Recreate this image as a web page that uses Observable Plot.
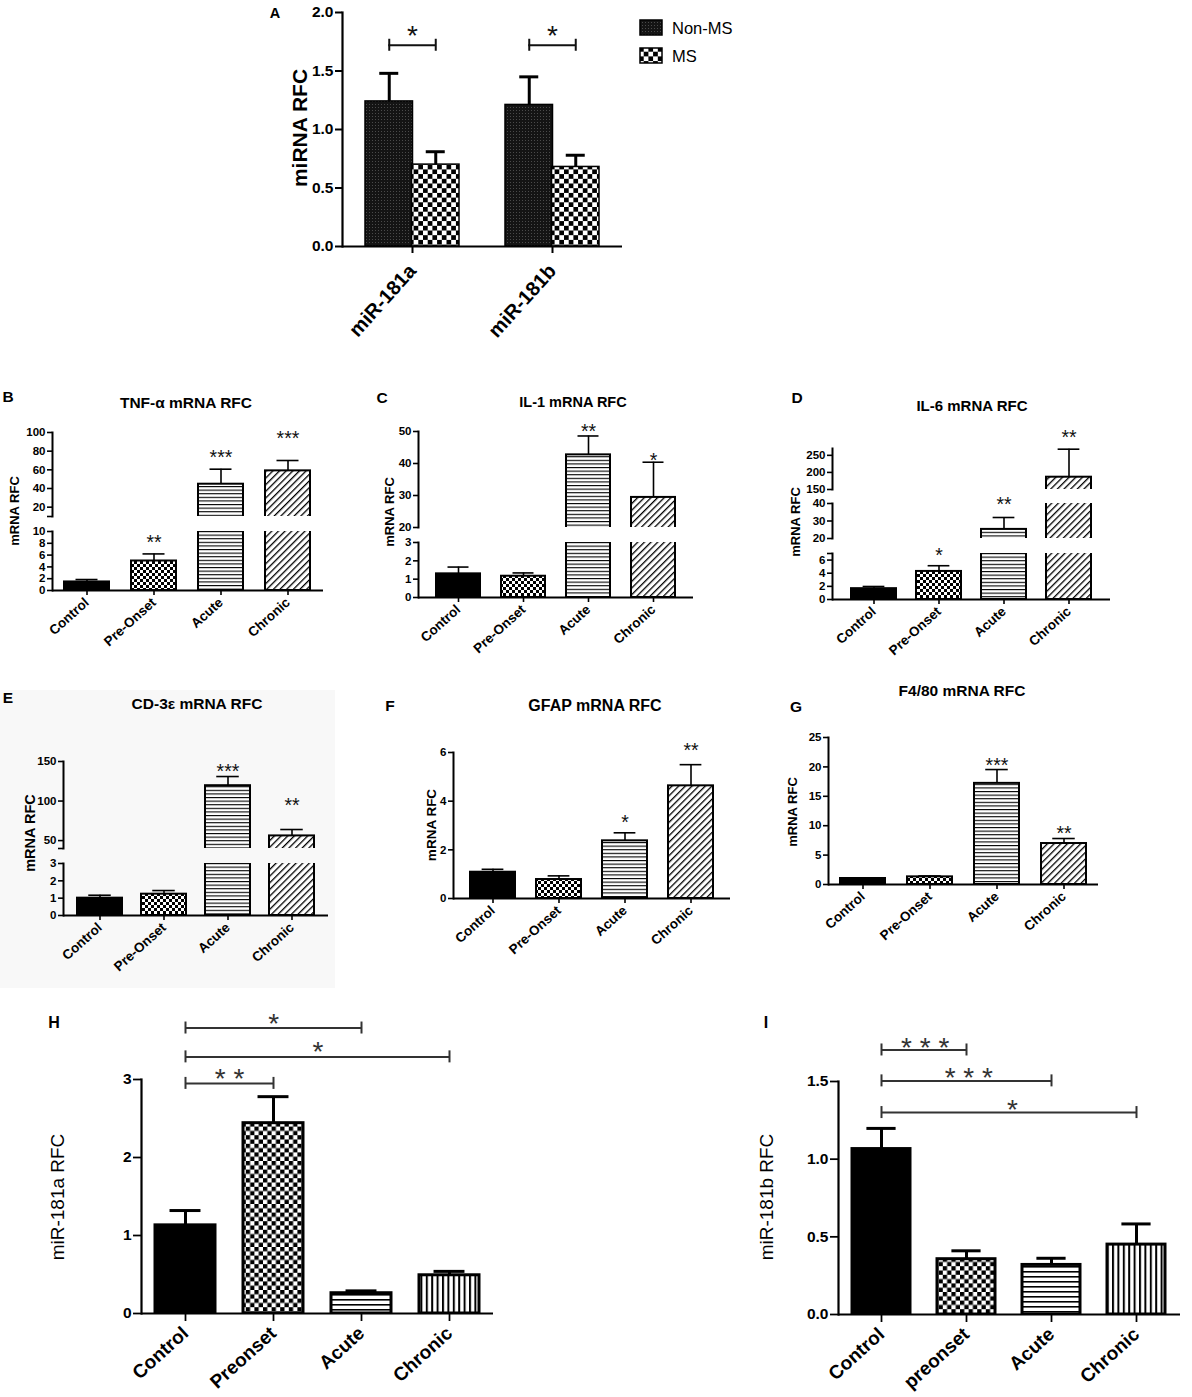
<!DOCTYPE html>
<html><head><meta charset="utf-8">
<script src="https://cdn.jsdelivr.net/npm/d3@7"></script>
<script src="https://cdn.jsdelivr.net/npm/@observablehq/plot@0.6"></script>
<style>
body{margin:0;background:#fff;font-family:"Liberation Sans",Arial,Helvetica,sans-serif}
#fig{position:relative;width:1192px;height:1397px;overflow:hidden;background:#fff}
</style></head>
<body>
<svg width="0" height="0" style="position:absolute">
<defs>
<pattern id="chk" width="6" height="6" patternUnits="userSpaceOnUse"><rect width="6" height="6" fill="#fff"/><rect width="3" height="3" fill="#000"/><rect x="3" y="3" width="3" height="3" fill="#000"/></pattern>
<pattern id="hl" width="4" height="3.6" patternUnits="userSpaceOnUse"><rect width="4" height="3.6" fill="#fff"/><rect width="4" height="1.1" fill="#000"/></pattern>
<pattern id="dg" width="4.7" height="4.7" patternUnits="userSpaceOnUse" patternTransform="rotate(45)"><rect width="4.7" height="4.7" fill="#fff"/><rect width="1.3" height="4.7" fill="#000"/></pattern>
<pattern id="chkL" width="8.6" height="8.6" patternUnits="userSpaceOnUse"><rect width="8.6" height="8.6" fill="#fff"/><rect width="4.3" height="4.3" fill="#000"/><rect x="4.3" y="4.3" width="4.3" height="4.3" fill="#000"/></pattern>
<pattern id="hlL" width="5" height="5" patternUnits="userSpaceOnUse"><rect width="5" height="5" fill="#fff"/><rect width="5" height="1.6" fill="#000"/></pattern>
<pattern id="vlL" width="5.4" height="5.4" patternUnits="userSpaceOnUse"><rect width="5.4" height="5.4" fill="#fff"/><rect width="2" height="5.4" fill="#000"/></pattern>
<pattern id="chkA" width="9.4" height="9.4" patternUnits="userSpaceOnUse"><rect width="9.4" height="9.4" fill="#fff"/><rect width="4.7" height="4.7" fill="#000"/><rect x="4.7" y="4.7" width="4.7" height="4.7" fill="#000"/></pattern>
<pattern id="dark" width="3" height="3" patternUnits="userSpaceOnUse"><rect width="3" height="3" fill="#141414"/><rect width="1" height="1" fill="#4a4a4a"/></pattern>
</defs>
</svg>
<div id="fig"></div>
<script>
// ---------------- DATA ----------------
// Panel A
const groupsA = ["miR-181a", "miR-181b"];
const seriesA = ["Non-MS", "MS"];
const nonMSMean = [1.24, 1.21];
const nonMSErr = [0.24, 0.24];
const msMean = [0.70, 0.68];
const msErr = [0.11, 0.10];
const sigA = ["*", "*"];
const bracketYA = [1.72, 1.72];
const starYA = [1.86, 1.86];
const ticksA = [0, 0.5, 1, 1.5, 2];
const tickLabelsA = ["0.0", "0.5", "1.0", "1.5", "2.0"];

// Panels B-G
const stages = ["Control", "Pre-Onset", "Acute", "Chronic"];
const tnfMean = [1.45, 5.0, 44.6, 58.9];
const tnfErr = [0.41, 1.2, 16.1, 11.1];
const tnfSig = ["", "**", "***", "***"];
const tnfSigY = [null, 8.9, 78, 99];
const tnfTicksUpper = [10, 20, 40, 60, 80, 100];
const tnfLabelsUpper = ["", "20", "40", "60", "80", "100"];
const tnfTicksLower = [0, 2, 4, 6, 8, 10];
const tnfLabelsLower = ["0", "2", "4", "6", "8", "10"];

const il1Mean = [1.29, 1.16, 42.7, 29.4];
const il1Err = [0.37, 0.18, 5.9, 11.0];
const il1Sig = ["", "", "**", "*"];
const il1SigY = [null, null, 51.6, 42.5];
const il1TicksUpper = [20, 30, 40, 50];
const il1LabelsUpper = ["20", "30", "40", "50"];
const il1TicksLower = [0, 1, 2, 3];
const il1LabelsLower = ["0", "1", "2", "3"];

const il6Mean = [1.65, 4.27, 25.2, 186];
const il6Err = [0.33, 0.87, 6.8, 82];
const il6Sig = ["", "*", "**", "**"];
const il6SigY = [null, 7.4, 42, 316];
const il6TicksTop = [150, 200, 250];
const il6LabelsTop = ["150", "200", "250"];
const il6TicksMid = [20, 30, 40];
const il6LabelsMid = ["20", "30", "40"];
const il6TicksLow = [0, 2, 4, 6, 7];
const il6LabelsLow = ["0", "2", "4", "6", ""];

const cd3Mean = [1.0, 1.23, 119.4, 55.9];
const cd3Err = [0.17, 0.21, 11.6, 8.1];
const cd3Sig = ["", "", "***", "**"];
const cd3SigY = [null, null, 143, 100];
const cd3TicksUpper = [40, 50, 100, 150];
const cd3LabelsUpper = ["", "50", "100", "150"];
const cd3TicksLower = [0, 1, 2, 3];
const cd3LabelsLower = ["0", "1", "2", "3"];

const gfapMean = [1.08, 0.78, 2.37, 4.63];
const gfapErr = [0.12, 0.15, 0.33, 0.87];
const gfapSig = ["", "", "*", "**"];
const gfapSigY = [null, null, 3.34, 6.27];
const gfapTicks = [0, 2, 4, 6];
const gfapLabels = ["0", "2", "4", "6"];

const f480Mean = [1.02, 1.3, 17.2, 6.97];
const f480Err = [0.05, 0.15, 2.35, 0.85];
const f480Sig = ["", "", "***", "**"];
const f480SigY = [null, null, 21.1, 9.5];
const f480Ticks = [0, 5, 10, 15, 20, 25];
const f480Labels = ["0", "5", "10", "15", "20", "25"];

// Panel H
const stagesH = ["Control", "Preonset", "Acute", "Chronic"];
const mir181aMean = [1.13, 2.44, 0.26, 0.49];
const mir181aErr = [0.19, 0.34, 0.03, 0.05];
const bracketFromH = ["Control", "Control", "Control"];
const bracketToH = ["Acute", "Chronic", "Preonset"];
const bracketYH = [3.66, 3.29, 2.95];
const bracketSigH = ["*", "*", "* *"];
const bracketStarYH = [3.81, 3.44, 3.10];
const ticksH = [0, 1, 2, 3];
const labelsH = ["0", "1", "2", "3"];

// Panel I
const stagesI = ["Control", "preonset", "Acute", "Chronic"];
const mir181bMean = [1.065, 0.356, 0.319, 0.45];
const mir181bErr = [0.133, 0.054, 0.043, 0.133];
const bracketFromI = ["Control", "Control", "Control"];
const bracketToI = ["preonset", "Acute", "Chronic"];
const bracketYI = [1.703, 1.504, 1.30];
const bracketSigI = ["* * *", "* * *", "*"];
const bracketStarYI = [1.761, 1.568, 1.365];
const ticksI = [0, 0.5, 1, 1.5];
const labelsI = ["0.0", "0.5", "1.0", "1.5"];

// ---------------- HELPERS ----------------
const FONT = '"Liberation Sans", Arial, Helvetica, sans-serif';
const fig = document.getElementById("fig");
function put(svg, left, top) {
  svg.style.position = "absolute";
  svg.style.left = left + "px";
  svg.style.top = top + "px";
  fig.appendChild(svg);
}
function txt(str, x, y, size, opts = {}) {
  const {weight = "bold", rotate = 0, color = "#000", align = "center"} = opts;
  const d = document.createElement("div");
  d.textContent = str;
  const tx = align === "left" ? "0" : "-50%";
  Object.assign(d.style, {position: "absolute", left: x + "px", top: y + "px", fontSize: size + "px",
    fontWeight: weight, lineHeight: "1", whiteSpace: "nowrap", color, fontFamily: FONT,
    transform: `translate(${tx},-50%) rotate(${rotate}deg)`});
  fig.appendChild(d);
}
function segOf(segs, y) {
  for (let i = 0; i < segs.length; i++) if (y >= segs[i].lo) return i;
  return segs.length - 1;
}

const small = {bar: 2, err: 1.6, cap: 0.25, star: 19.5, starColor: "#111", axis: 2, tick: 5, yFont: 11.5, xFont: 13.5, rot: -42, xPad: 5};
const large = {bar: 3, err: 3, cap: 0.24, star: 28, starColor: "#333", axis: 2.2, tick: 8, yFont: 15.5, xFont: 19, rot: -42, xPad: 9};
const fillsSmall = ["#000", "url(#chk)", "url(#hl)", "url(#dg)"];
const fillsLarge = ["#000", "url(#chkL)", "url(#hlL)", "url(#vlL)"];

function drawPanel(p) {
  const st = p.st;
  const rows = p.cats.map((c, i) => ({cat: c, mean: p.mean[i], top: p.mean[i] + p.err[i], sig: p.sig ? p.sig[i] : "", sigY: p.sigY ? p.sigY[i] : null}));
  const nSeg = p.segs.length;
  p.segs.forEach((s, si) => {
    const bottomSeg = si === nSeg - 1;
    const mL = 50, mR = 14, mT = 90, mB = bottomSeg ? 130 : 6;
    const fw = p.R - p.L, fh = s.bottom - s.top;
    const labelMap = new Map(s.ticks.map((t, i) => [t, s.labels[i]]));
    const starRows = rows.filter(r => r.sig && segOf(p.segs, r.sigY) === si);
    const marks = [];
    p.cats.forEach((c, i) => marks.push(Plot.barY(rows.filter(r => r.cat === c),
      {x: "cat", y1: 0, y2: "mean", fill: p.fills[i], stroke: "#000", strokeWidth: st.bar, clip: true})));
    marks.push(Plot.ruleX(rows, {x: "cat", y1: "mean", y2: "top", stroke: "#000", strokeWidth: st.err, clip: true}));
    marks.push(Plot.tickY(rows, {x: "cat", y: "top", insetLeft: p.bw * st.cap, insetRight: p.bw * st.cap, stroke: "#000", strokeWidth: st.err, clip: true}));
    marks.push(Plot.text(starRows, {x: "cat", y: "sigY", text: "sig", fontSize: st.star, dy: st.star * 0.26, fill: st.starColor, fontFamily: FONT}));
    if (p.brackets && si === 0) {
      const br = p.brackets.from.map((f, i) => ({from: f, to: p.brackets.to[i], y: p.brackets.y[i], sig: p.brackets.sig[i], sy: p.brackets.starY[i]}));
      const delta = 6 * (s.hi - s.lo) / (s.bottom - s.top);
      marks.push(Plot.link(br, {x1: "from", x2: "to", y1: "y", y2: "y", stroke: "#333", strokeWidth: 2}));
      marks.push(Plot.ruleX(br, {x: "from", y1: d => d.y - delta, y2: d => d.y + delta, stroke: "#333", strokeWidth: 2}));
      marks.push(Plot.ruleX(br, {x: "to", y1: d => d.y - delta, y2: d => d.y + delta, stroke: "#333", strokeWidth: 2}));
      br.forEach(b => {
        const k = p.cats.indexOf(b.to) - p.cats.indexOf(b.from);
        marks.push(Plot.text([b], {x: "from", y: "sy", text: "sig", dx: k * p.step / 2, fontSize: st.star, dy: st.star * 0.26, fill: st.starColor, fontFamily: FONT}));
      });
    }
    marks.push(Plot.frame({anchor: "left", stroke: "#000", strokeWidth: st.axis}));
    marks.push(Plot.axisY(s.ticks, {tickSize: st.tick, tickPadding: 2, fontSize: st.yFont, fontWeight: "bold", tickFormat: d => labelMap.get(d), strokeWidth: st.axis * 0.8, label: null}));
    if (bottomSeg) {
      marks.push(Plot.ruleY([s.lo], {stroke: "#000", strokeWidth: st.axis}));
      marks.push(Plot.axisX({tickSize: st.tick, tickRotate: st.rot, tickPadding: st.xPad, fontSize: st.xFont, fontWeight: "bold", strokeWidth: st.axis * 0.8, label: null}));
    }
    const xOpts = {domain: p.cats, paddingInner: 1 - p.bw / p.step, paddingOuter: (p.bar0 - p.L) / p.step, align: 0.5, label: null};
    if (!bottomSeg) xOpts.axis = null;
    const svg = Plot.plot({
      width: fw + mL + mR, height: fh + mT + mB,
      marginLeft: mL, marginRight: mR, marginTop: mT, marginBottom: mB,
      x: xOpts,
      y: {domain: [s.lo, s.hi], label: null},
      style: {background: "transparent", overflow: "visible", fontFamily: FONT, color: "#000"},
      marks
    });
    put(svg, p.L - mL, s.top - mT);
  });
  txt(p.letter, p.letterPos[0], p.letterPos[1], p.letterSize || 15.5);
  if (p.title) txt(p.title, p.titlePos[0], p.titlePos[1], p.titleSize);
  txt(p.ylabel, p.ylabelPos[0], p.ylabelPos[1], p.ylabelSize, {rotate: -90, weight: p.ylabelWeight || "bold"});
}

// Panel E faint background
const bgE = document.createElement("div");
Object.assign(bgE.style, {position: "absolute", left: "0px", top: "690px", width: "335px", height: "298px", background: "#f8f8f8"});
fig.appendChild(bgE);

// ---------------- PANEL A ----------------
(function drawA() {
  const L = 342, R = 622, bar0 = 365, bw = 93, step = 139, top = 12, bottom = 246;
  const mL = 60, mR = 14, mT = 40, mB = 140;
  const rows = groupsA.map((g, i) => ({g, nm: nonMSMean[i], nmTop: nonMSMean[i] + nonMSErr[i], ms: msMean[i], msTop: msMean[i] + msErr[i], sig: sigA[i], by: bracketYA[i], sy: starYA[i]}));
  const delta = 6 * 2 / (bottom - top);
  const svg = Plot.plot({
    width: R - L + mL + mR, height: bottom - top + mT + mB,
    marginLeft: mL, marginRight: mR, marginTop: mT, marginBottom: mB,
    x: {domain: groupsA, paddingInner: 1 - bw / step, paddingOuter: (bar0 - L) / step, align: 0.5, label: null},
    y: {domain: [0, 2], label: null},
    style: {background: "transparent", overflow: "visible", fontFamily: FONT, color: "#000"},
    marks: [
      Plot.barY(rows, {x: "g", y1: 0, y2: "nm", insetRight: bw / 2, fill: "url(#dark)", stroke: "#000", strokeWidth: 1.5}),
      Plot.barY(rows, {x: "g", y1: 0, y2: "ms", insetLeft: bw / 2, fill: "url(#chkA)", stroke: "#000", strokeWidth: 1.5}),
      Plot.ruleX(rows, {x: "g", y1: "nm", y2: "nmTop", dx: -bw / 4, stroke: "#000", strokeWidth: 3}),
      Plot.tickY(rows, {x: "g", y: "nmTop", insetLeft: bw / 4 - 9, insetRight: 3 * bw / 4 - 9, stroke: "#000", strokeWidth: 3}),
      Plot.ruleX(rows, {x: "g", y1: "ms", y2: "msTop", dx: bw / 4, stroke: "#000", strokeWidth: 3}),
      Plot.tickY(rows, {x: "g", y: "msTop", insetLeft: 3 * bw / 4 - 9, insetRight: bw / 4 - 9, stroke: "#000", strokeWidth: 3}),
      Plot.tickY(rows, {x: "g", y: "by", insetLeft: bw / 4, insetRight: bw / 4, stroke: "#111", strokeWidth: 2}),
      Plot.ruleX(rows, {x: "g", y1: d => d.by - delta, y2: d => d.by + delta, dx: -bw / 4, stroke: "#111", strokeWidth: 2}),
      Plot.ruleX(rows, {x: "g", y1: d => d.by - delta, y2: d => d.by + delta, dx: bw / 4, stroke: "#111", strokeWidth: 2}),
      Plot.text(rows, {x: "g", y: "sy", text: "sig", fontSize: 28, dy: 7, fill: "#111", fontFamily: FONT}),
      Plot.frame({anchor: "left", stroke: "#000", strokeWidth: 2.2}),
      Plot.ruleY([0], {stroke: "#000", strokeWidth: 2.2}),
      Plot.axisY(ticksA, {tickSize: 7, tickPadding: 2, fontSize: 15.5, fontWeight: "bold", tickFormat: (d) => tickLabelsA[ticksA.indexOf(d)], strokeWidth: 2, label: null}),
      Plot.axisX({tickSize: 7, tickRotate: -48, tickPadding: 14, fontSize: 20, fontWeight: "bold", strokeWidth: 2, label: null})
    ]
  });
  put(svg, L - mL, top - mT);
  txt("A", 275, 13, 14.5);
  txt("miRNA RFC", 299, 128, 21, {rotate: -90});
  // legend
  const fillsA = ["url(#dark)", "url(#chkA)"];
  const legY = [27.5, 55.5];
  seriesA.forEach((s, i) => {
    const ns = "http://www.w3.org/2000/svg";
    const sw = document.createElementNS(ns, "svg");
    sw.setAttribute("width", 24); sw.setAttribute("height", 17);
    Object.assign(sw.style, {position: "absolute", left: "639px", top: (legY[i] - 8.5) + "px"});
    const r = document.createElementNS(ns, "rect");
    r.setAttribute("x", 1); r.setAttribute("y", 1); r.setAttribute("width", 22); r.setAttribute("height", 15);
    r.setAttribute("fill", fillsA[i]); r.setAttribute("stroke", "#000"); r.setAttribute("stroke-width", 1.5);
    sw.appendChild(r);
    fig.appendChild(sw);
    txt(s, 672, legY[i], 16.5, {weight: "normal", align: "left"});
  });
})();

// ---------------- PANELS B-I ----------------
drawPanel({letter: "B", letterPos: [8, 397], title: "TNF-α mRNA RFC", titlePos: [186, 403], titleSize: 15.5,
  ylabel: "mRNA RFC", ylabelPos: [14, 511], ylabelSize: 13,
  cats: stages, mean: tnfMean, err: tnfErr, sig: tnfSig, sigY: tnfSigY, fills: fillsSmall, st: small,
  L: 52, R: 323, bar0: 63, bw: 46, step: 68,
  segs: [{lo: 10, hi: 100, top: 432, bottom: 516, ticks: tnfTicksUpper, labels: tnfLabelsUpper},
         {lo: 0, hi: 10, top: 531, bottom: 590, ticks: tnfTicksLower, labels: tnfLabelsLower}]});

drawPanel({letter: "C", letterPos: [382, 398], title: "IL-1 mRNA RFC", titlePos: [573, 402], titleSize: 14.5,
  ylabel: "mRNA RFC", ylabelPos: [389, 512], ylabelSize: 13,
  cats: stages, mean: il1Mean, err: il1Err, sig: il1Sig, sigY: il1SigY, fills: fillsSmall, st: small,
  L: 418, R: 693, bar0: 435, bw: 46, step: 67.3,
  segs: [{lo: 20, hi: 50, top: 431, bottom: 527, ticks: il1TicksUpper, labels: il1LabelsUpper},
         {lo: 0, hi: 3, top: 542, bottom: 597, ticks: il1TicksLower, labels: il1LabelsLower}]});

drawPanel({letter: "D", letterPos: [797, 398], title: "IL-6 mRNA RFC", titlePos: [972, 405], titleSize: 15,
  ylabel: "mRNA RFC", ylabelPos: [795, 522], ylabelSize: 13,
  cats: stages, mean: il6Mean, err: il6Err, sig: il6Sig, sigY: il6SigY, fills: fillsSmall, st: small,
  L: 832, R: 1110, bar0: 850, bw: 46.5, step: 67.7,
  segs: [{lo: 150, hi: 270, top: 448, bottom: 489, ticks: il6TicksTop, labels: il6LabelsTop},
         {lo: 20, hi: 40, top: 503, bottom: 538, ticks: il6TicksMid, labels: il6LabelsMid},
         {lo: 0, hi: 7, top: 553, bottom: 599, ticks: il6TicksLow, labels: il6LabelsLow}]});

drawPanel({letter: "E", letterPos: [8, 698], title: "CD-3ε mRNA RFC", titlePos: [197, 704], titleSize: 15.5,
  ylabel: "mRNA RFC", ylabelPos: [30, 833], ylabelSize: 14.5,
  cats: stages, mean: cd3Mean, err: cd3Err, sig: cd3Sig, sigY: cd3SigY, fills: fillsSmall, st: small,
  L: 63, R: 328, bar0: 76, bw: 45, step: 64.7,
  segs: [{lo: 40, hi: 150, top: 761, bottom: 848, ticks: cd3TicksUpper, labels: cd3LabelsUpper},
         {lo: 0, hi: 3, top: 863, bottom: 915, ticks: cd3TicksLower, labels: cd3LabelsLower}]});

drawPanel({letter: "F", letterPos: [390, 706], title: "GFAP mRNA RFC", titlePos: [595, 706], titleSize: 16,
  ylabel: "mRNA RFC", ylabelPos: [432, 825], ylabelSize: 13.5,
  cats: stages, mean: gfapMean, err: gfapErr, sig: gfapSig, sigY: gfapSigY, fills: fillsSmall, st: small,
  L: 453, R: 730, bar0: 470, bw: 46.5, step: 67.7,
  segs: [{lo: 0, hi: 6, top: 752, bottom: 898, ticks: gfapTicks, labels: gfapLabels}]});

drawPanel({letter: "G", letterPos: [796, 707], title: "F4/80 mRNA RFC", titlePos: [962, 691], titleSize: 15.5,
  ylabel: "mRNA RFC", ylabelPos: [792, 812], ylabelSize: 13,
  cats: stages, mean: f480Mean, err: f480Err, sig: f480Sig, sigY: f480SigY, fills: fillsSmall, st: small,
  L: 828, R: 1098, bar0: 840, bw: 45, step: 67.3,
  segs: [{lo: 0, hi: 25, top: 737, bottom: 884, ticks: f480Ticks, labels: f480Labels}]});

drawPanel({letter: "H", letterPos: [54, 1023], letterSize: 16,
  ylabel: "miR-181a RFC", ylabelPos: [57, 1197], ylabelSize: 19, ylabelWeight: "normal",
  cats: stagesH, mean: mir181aMean, err: mir181aErr, fills: fillsLarge, st: large,
  brackets: {from: bracketFromH, to: bracketToH, y: bracketYH, sig: bracketSigH, starY: bracketStarYH},
  L: 141, R: 493, bar0: 153, bw: 60.5, step: 88.3,
  segs: [{lo: 0, hi: 3, top: 1079, bottom: 1313, ticks: ticksH, labels: labelsH}]});

drawPanel({letter: "I", letterPos: [766, 1023], letterSize: 16,
  ylabel: "miR-181b RFC", ylabelPos: [766, 1197], ylabelSize: 19, ylabelWeight: "normal",
  cats: stagesI, mean: mir181bMean, err: mir181bErr, fills: fillsLarge, st: large,
  brackets: {from: bracketFromI, to: bracketToI, y: bracketYI, sig: bracketSigI, starY: bracketStarYI},
  L: 838, R: 1180, bar0: 851, bw: 60, step: 87.3,
  segs: [{lo: 0, hi: 1.5, top: 1081, bottom: 1314, ticks: ticksI, labels: labelsI}]});
</script>
</body></html>
